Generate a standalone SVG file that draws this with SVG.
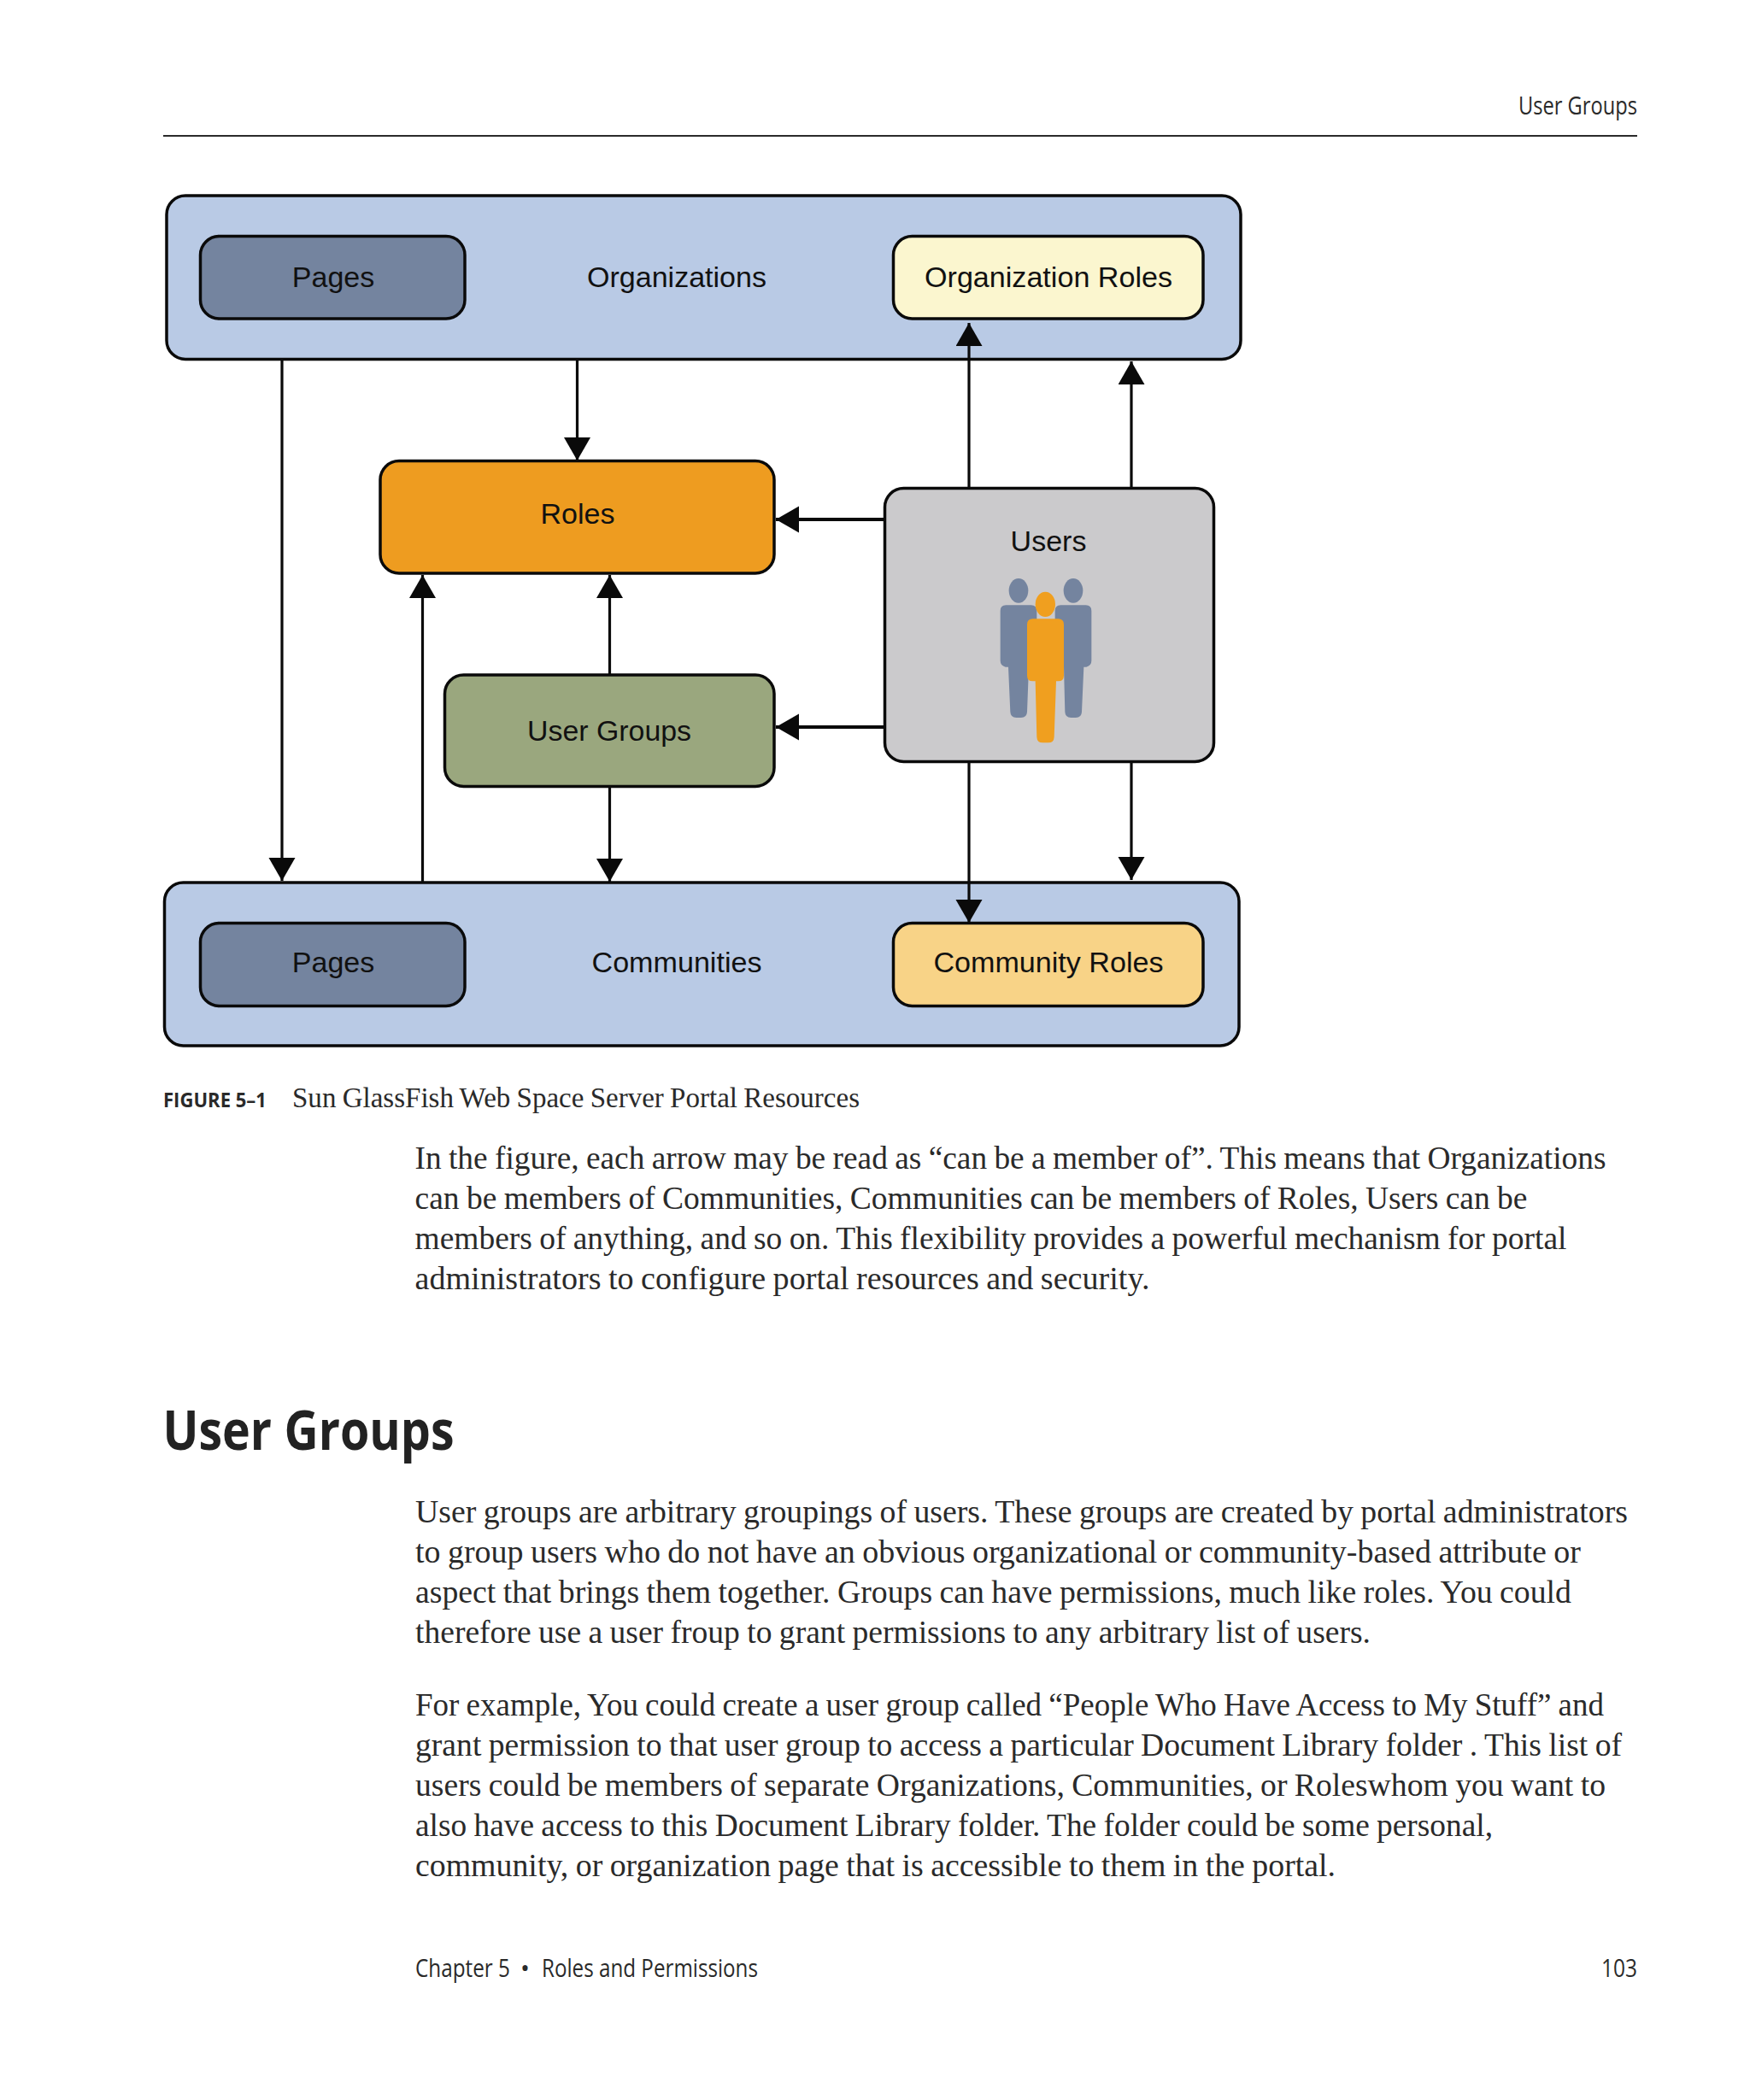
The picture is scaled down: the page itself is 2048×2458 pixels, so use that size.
<svg xmlns="http://www.w3.org/2000/svg" width="2048" height="2458" viewBox="0 0 2048 2458">
<style>
.box{stroke:#0a0a0a;stroke-width:3.5}
.lbl{font-family:"Liberation Sans",Arial,sans-serif;font-size:34px;fill:#111;text-anchor:middle}
.body{font-family:"Liberation Serif","Times New Roman",serif;font-size:37px;fill:#2a2a2a;word-spacing:-1px}
.cap{font-family:"Liberation Serif","Times New Roman",serif;font-size:33px;fill:#2a2a2a;word-spacing:-1px}
.sans{font-family:"Open Sans","Noto Sans",sans-serif;font-size:29px;fill:#2a2a2a}
.fig{font-family:"Open Sans","Noto Sans",sans-serif;font-size:23.5px;font-weight:700;fill:#2a2a2a}
.h1{font-family:"Open Sans","Noto Sans",sans-serif;font-size:65px;font-weight:700;fill:#222}
.ln{stroke:#0a0a0a;stroke-width:3.2;fill:none}
.ah{fill:#0a0a0a}
.gr{fill:#74849f}
.or{fill:#f09f1f}
</style>
<defs>
<marker id="a" markerUnits="userSpaceOnUse" markerWidth="28" markerHeight="32" refX="27" refY="15.500" orient="auto"><path class="ah" d="M0 0L27 15.500L0 31z"/></marker>
</defs>
<rect width="2048" height="2458" fill="#fff"/>

<text class="sans" x="1777" y="133.500" textLength="139" lengthAdjust="spacingAndGlyphs">User Groups</text>
<line x1="191" y1="159" x2="1916" y2="159" stroke="#2a2a2a" stroke-width="2"/>

<g id="organizations">
<rect class="box" x="195" y="229" width="1257" height="191.500" rx="22" fill="#b9cae5"/>
<text class="lbl" x="792" y="336" textLength="210" lengthAdjust="spacingAndGlyphs">Organizations</text>
</g>
<g id="org-pages">
<rect class="box" x="234.500" y="276.500" width="309.500" height="96.500" rx="22" fill="#74849f"/>
<text class="lbl" x="390" y="336">Pages</text>
</g>
<g id="organization-roles">
<rect class="box" x="1045.500" y="276.500" width="362.500" height="96.500" rx="22" fill="#fbf6cf"/>
<text class="lbl" x="1227" y="336" textLength="290" lengthAdjust="spacingAndGlyphs">Organization Roles</text>
</g>
<g id="roles">
<rect class="box" x="445" y="539.500" width="461" height="131.500" rx="22" fill="#ee9c20"/>
<text class="lbl" x="676" y="613">Roles</text>
</g>
<g id="users">
<rect class="box" x="1035.500" y="571.500" width="385" height="320" rx="22" fill="#cbcacc"/>
<text class="lbl" x="1227" y="645">Users</text>
<g transform="translate(1130 660) scale(.33333)">
<ellipse class="gr" cx="186" cy="94" rx="34" ry="43"/>
<ellipse class="gr" cx="378" cy="94" rx="34" ry="43"/>
<path class="gr" d="M142 145H230Q250 145 250 165V350L222 362L216 520Q215 540 195 540H178Q158 540 157 520L150 362H140Q122 358 122 340V165Q122 145 142 145Z"/>
<path class="gr" d="M334 145H422Q442 145 442 165V340Q442 358 424 362H415L408 520Q407 540 387 540H370Q350 540 349 520L345 362L314 350V165Q314 145 334 145Z"/>
<ellipse class="or" cx="280" cy="142" rx="35" ry="44"/>
<path class="or" d="M236 193H325Q345 193 345 213V392Q345 412 325 412H318L311 608Q310 628 290 628H271Q251 628 250 608L245 412H236Q216 412 216 392V213Q216 193 236 193Z"/>
</g>
</g>
<g id="user-groups">
<rect class="box" x="520.500" y="790" width="385.500" height="130.500" rx="22" fill="#9aa77e"/>
<text class="lbl" x="713" y="867" textLength="192" lengthAdjust="spacingAndGlyphs">User Groups</text>
</g>
<g id="communities">
<rect class="box" x="192.500" y="1033" width="1257.500" height="191" rx="22" fill="#b9cae5"/>
<text class="lbl" x="792" y="1138" textLength="199" lengthAdjust="spacingAndGlyphs">Communities</text>
</g>
<g id="comm-pages">
<rect class="box" x="234.500" y="1080.500" width="309.500" height="97" rx="22" fill="#74849f"/>
<text class="lbl" x="390" y="1138">Pages</text>
</g>
<g id="community-roles">
<rect class="box" x="1045.500" y="1080.500" width="362.500" height="97" rx="22" fill="#f8d387"/>
<text class="lbl" x="1227" y="1138" textLength="269" lengthAdjust="spacingAndGlyphs">Community Roles</text>
</g>

<g id="connectors">
<line class="ln" x1="330" y1="420" x2="330" y2="1031" marker-end="url(#a)"/>
<line class="ln" x1="675.500" y1="420" x2="675.500" y2="539" marker-end="url(#a)"/>
<line class="ln" x1="1134" y1="571" x2="1134" y2="378" marker-end="url(#a)"/>
<line class="ln" x1="1324" y1="571" x2="1324" y2="423" marker-end="url(#a)"/>
<line class="ln" x1="1036" y1="608" x2="908" y2="608" marker-end="url(#a)" style="stroke-width:4"/>
<line class="ln" x1="1036" y1="851" x2="908" y2="851" marker-end="url(#a)" style="stroke-width:4"/>
<line class="ln" x1="494.500" y1="1033" x2="494.500" y2="673" marker-end="url(#a)"/>
<line class="ln" x1="713.500" y1="790" x2="713.500" y2="673" marker-end="url(#a)"/>
<line class="ln" x1="713.500" y1="921" x2="713.500" y2="1032" marker-end="url(#a)"/>
<line class="ln" x1="1134" y1="891" x2="1134" y2="1080" marker-end="url(#a)"/>
<line class="ln" x1="1324" y1="891" x2="1324" y2="1030" marker-end="url(#a)"/>
</g>

<text class="fig" x="191" y="1296" textLength="121" lengthAdjust="spacingAndGlyphs">FIGURE 5–1</text>
<text class="cap" x="342" y="1296" textLength="664" lengthAdjust="spacingAndGlyphs">Sun GlassFish Web Space Server Portal Resources</text>

<text class="body" x="485.500" y="1368" textLength="1394" lengthAdjust="spacingAndGlyphs">In the figure, each arrow may be read as “can be a member of”. This means that Organizations</text>
<text class="body" x="485.500" y="1415" textLength="1302" lengthAdjust="spacingAndGlyphs">can be members of Communities, Communities can be members of Roles, Users can be</text>
<text class="body" x="485.500" y="1462" textLength="1348" lengthAdjust="spacingAndGlyphs">members of anything, and so on. This flexibility provides a powerful mechanism for portal</text>
<text class="body" x="485.500" y="1509" textLength="860" lengthAdjust="spacingAndGlyphs">administrators to configure portal resources and security.</text>

<text class="h1" x="190.500" y="1697" textLength="341" lengthAdjust="spacingAndGlyphs">User Groups</text>

<text class="body" x="486" y="1781.500" textLength="1419" lengthAdjust="spacingAndGlyphs">User groups are arbitrary groupings of users. These groups are created by portal administrators</text>
<text class="body" x="486" y="1828.500" textLength="1364" lengthAdjust="spacingAndGlyphs">to group users who do not have an obvious organizational or community-based attribute or</text>
<text class="body" x="486" y="1875.500" textLength="1353" lengthAdjust="spacingAndGlyphs">aspect that brings them together. Groups can have permissions, much like roles. You could</text>
<text class="body" x="486" y="1923" textLength="1118" lengthAdjust="spacingAndGlyphs">therefore use a user froup to grant permissions to any arbitrary list of users.</text>

<text class="body" x="486" y="2008" textLength="1391" lengthAdjust="spacingAndGlyphs">For example, You could create a user group called “People Who Have Access to My Stuff” and</text>
<text class="body" x="486" y="2055" textLength="1412" lengthAdjust="spacingAndGlyphs">grant permission to that user group to access a particular Document Library folder . This list of</text>
<text class="body" x="486" y="2102" textLength="1393" lengthAdjust="spacingAndGlyphs">users could be members of separate Organizations, Communities, or Roleswhom you want to</text>
<text class="body" x="486" y="2149" textLength="1261" lengthAdjust="spacingAndGlyphs">also have access to this Document Library folder. The folder could be some personal,</text>
<text class="body" x="486" y="2196" textLength="1077" lengthAdjust="spacingAndGlyphs">community, or organization page that is accessible to them in the portal.</text>

<text class="sans" y="2314"><tspan x="486" textLength="111" lengthAdjust="spacingAndGlyphs">Chapter 5</tspan><tspan x="609">•</tspan><tspan x="634" textLength="253" lengthAdjust="spacingAndGlyphs">Roles and Permissions</tspan></text>
<text class="sans" x="1874" y="2314" textLength="42" lengthAdjust="spacingAndGlyphs">103</text>
</svg>
